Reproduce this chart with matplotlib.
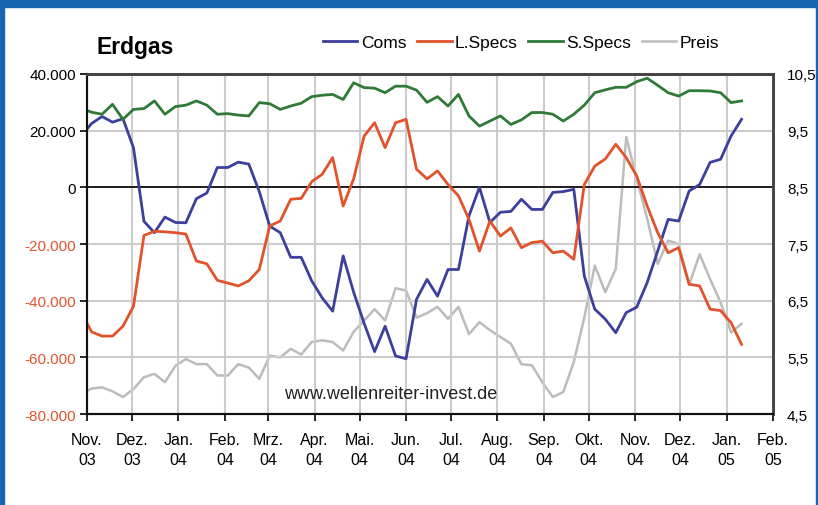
import numpy as np
import pandas as pd
import matplotlib
matplotlib.use('Agg')
import matplotlib.pyplot as plt
from matplotlib.patches import Rectangle
from matplotlib.ticker import FuncFormatter

plt.rcParams['font.family'] = ['Liberation Sans', 'DejaVu Sans']

# weekly COT data (Tuesdays), Erdgas
dates = pd.date_range('2003-10-28', periods=64, freq='7D')

coms = [18000, 22500, 25000, 23000, 24200, 14000, -12000, -16000, -10500, -12400, -12500,
        -4000, -2000, 7000, 7000, 8900, 8200, -1500, -13700, -16000, -24700, -24700,
        -33000, -39000, -43700, -24200, -37000, -48000, -58000, -49000, -59500, -60500,
        -39500, -32500, -38400, -29000, -29000, -10100, 0, -12400, -8800, -8500, -4200,
        -7800, -7800, -1800, -1500, -700, -31300, -43000, -46500, -51300, -44200, -42300,
        -33600, -22500, -11300, -11900, -1300, 1000, 8800, 9900, 18100, 24000]

lspecs = [-44000, -51000, -52500, -52500, -49000, -42000, -17000, -15500, -15700, -16000,
          -16500, -26000, -27000, -32800, -33800, -34800, -33000, -29000, -13600, -11900,
          -4200, -3900, 2000, 4600, 10500, -6600, 3000, 18100, 22800, 14000, 22800, 24000,
          6400, 3000, 5800, 1000, -3000, -11300, -22500, -11900, -17200, -14300, -21300,
          -19500, -19000, -23100, -22500, -25400, 1000, 7500, 10000, 15200, 10500, 4000,
          -6600, -16000, -23100, -21300, -34200, -34800, -43000, -43500, -47800, -55400]

sspecs = [28000, 26500, 25800, 29300, 24000, 27500, 27800, 30500, 25800, 28500, 29000,
          30500, 29000, 25800, 26000, 25500, 25200, 29900, 29500, 27500, 28700, 29700,
          32000, 32500, 32800, 31000, 36900, 35200, 35000, 33400, 35700, 35700, 34300,
          30000, 32000, 28700, 32800, 25200, 21600, 23400, 25200, 22200, 23800, 26400,
          26400, 25800, 23400, 25800, 29000, 33400, 34400, 35300, 35300, 37300, 38500,
          36000, 33400, 32200, 34100, 34100, 34000, 33400, 29900, 30500]

preis = [4.85, 4.95, 4.97, 4.90, 4.80, 4.94, 5.15, 5.21, 5.06, 5.35, 5.47, 5.38, 5.38,
         5.18, 5.18, 5.38, 5.32, 5.12, 5.53, 5.50, 5.65, 5.55, 5.77, 5.80, 5.77, 5.62,
         5.95, 6.15, 6.35, 6.15, 6.72, 6.68, 6.20, 6.28, 6.39, 6.18, 6.39, 5.91, 6.12,
         5.98, 5.86, 5.74, 5.38, 5.36, 5.06, 4.80, 4.89, 5.42, 6.20, 7.12, 6.65, 7.06,
         9.39, 8.65, 7.95, 7.15, 7.56, 7.50, 6.78, 7.32, 6.88, 6.47, 5.94, 6.09]

month_ticks = pd.date_range('2003-11-01', '2005-02-01', freq='MS')
month_names = ['Nov.', 'Dez.', 'Jan.', 'Feb.', 'Mrz.', 'Apr.', 'Mai.', 'Jun.',
               'Jul.', 'Aug.', 'Sep.', 'Okt.', 'Nov.', 'Dez.', 'Jan.', 'Feb.']
left_ticks = [-80000, -60000, -40000, -20000, 0, 20000, 40000]
right_ticks = [4.5, 5.5, 6.5, 7.5, 8.5, 9.5, 10.5]

c_coms = '#3d3f9c'
c_long = '#e2532c'
c_short = '#2f7a37'
c_preis = '#bcbcbc'

fig = plt.figure(figsize=(8.18, 5.06), dpi=100)
ax = fig.add_axes([0.1064, 0.1798, 0.8386, 0.672])
ax2 = ax.twinx()

# price behind the COT lines
ax.set_zorder(ax2.get_zorder() + 1)
ax.patch.set_visible(False)

l4, = ax2.plot(dates, preis, color=c_preis, lw=1.8, label='Preis')
l1, = ax.plot(dates, coms, color=c_coms, lw=2, label='Coms')
l2, = ax.plot(dates, lspecs, color=c_long, lw=2, label='L.Specs')
l3, = ax.plot(dates, sspecs, color=c_short, lw=2, label='S.Specs')

ax.set_xlim(month_ticks[0], month_ticks[-1])
ax.set_ylim(-80000, 40000)
ax2.set_ylim(4.5, 10.5)

ax.set_xticks(month_ticks)
ax.set_xticklabels([f'{m}\n{d:%y}' for m, d in zip(month_names, month_ticks)],
                   fontsize=11.5, linespacing=1.45)
ax.set_yticks(left_ticks)
ax.yaxis.set_major_formatter(FuncFormatter(lambda v, p: f'{v:,.0f}'.replace(',', '.')))
ax.tick_params(axis='y', labelsize=11, length=5, width=1.2, pad=3)
ax.tick_params(axis='x', length=5, width=1.2, pad=8)
for lab, v in zip(ax.get_yticklabels(), left_ticks):
    if v < 0:
        lab.set_color(c_long)

ax2.set_yticks(right_ticks)
ax2.set_yticklabels([str(t).replace('.', ',') for t in right_ticks])
ax2.tick_params(axis='y', labelsize=11, length=0, pad=10)

ax.grid(True, color='#cccccc', lw=1.5)
ax.set_axisbelow(True)
ax.axhline(0, color='#111111', lw=1.3, zorder=1)

for a in (ax, ax2):
    for side in ['left', 'bottom']:
        a.spines[side].set_color('#111111')
        a.spines[side].set_linewidth(1.5)
    for side in ['top', 'right']:
        a.spines[side].set_color('#444444')
        a.spines[side].set_linewidth(2)

ax.text(0.442, 0.06, 'www.wellenreiter-invest.de', transform=ax.transAxes,
        ha='center', va='center', fontsize=13, color='#222222')

fig.text(0.118, 0.906, 'Erdgas', fontsize=16.5, fontweight='bold', va='center')
fig.legend([l1, l2, l3, l4], ['Coms', 'L.Specs', 'S.Specs', 'Preis'],
           loc='center', bbox_to_anchor=(0.637, 0.914), ncol=4, frameon=False,
           fontsize=12.5, handlelength=2.0, columnspacing=0.6, handletextpad=0.2)

# blue frame of the original graphic
blue = '#1565b0'
fig.patches.append(Rectangle((0, 1 - 8 / 506), 1, 8 / 506, transform=fig.transFigure,
                             color=blue, zorder=0))
fig.patches.append(Rectangle((0, 0), 4 / 818, 1, transform=fig.transFigure,
                             color=blue, zorder=0))
fig.patches.append(Rectangle((1 - 2 / 818, 0), 2 / 818, 1, transform=fig.transFigure,
                             color=blue, zorder=0))

fig.savefig('out.png', dpi=100)
